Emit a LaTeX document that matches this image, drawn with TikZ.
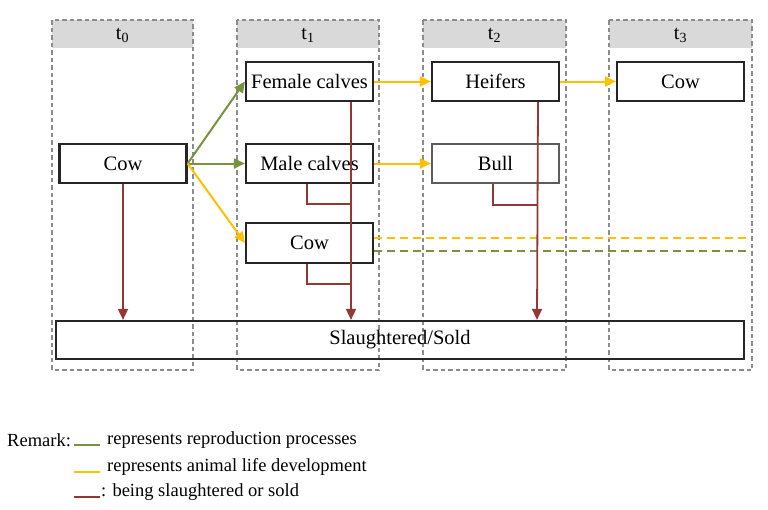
\documentclass[tikz,border=0pt]{standalone}
\usepackage{fontspec}
\setmainfont{Liberation Serif}
\usetikzlibrary{arrows.meta}
\definecolor{cgreen}{HTML}{77933C}
\definecolor{cyellow}{HTML}{FFC000}
\definecolor{cred}{HTML}{953735}
\definecolor{cband}{HTML}{D9D9D9}
\definecolor{cdash}{HTML}{8C8C8C}
\definecolor{cbox}{HTML}{262626}
\tikzset{
  colbox/.style={draw=cdash, line width=1.3pt, dash pattern=on 4.5pt off 3pt},
  band/.style={fill=cband, draw=none},
  hdr/.style={font=\fontsize{20}{22}\selectfont, inner sep=0pt},
  stbox/.style={draw=cbox, line width=2.2pt, minimum width=127pt, minimum height=39pt, inner sep=0pt, font=\fontsize{20.5}{22}\selectfont},
  garrow/.style={draw=cgreen, line width=2pt, -{Triangle[length=11pt,width=10pt]}},
  yarrow/.style={draw=cyellow, line width=2pt, -{Triangle[length=11pt,width=10pt]}},
  rarrow/.style={draw=cred, line width=1.8pt, -{Triangle[length=11pt,width=10pt]}},
  rline/.style={draw=cred, line width=1.8pt},
  ydash/.style={draw=cyellow, line width=2.2pt, dash pattern=on 8pt off 5pt},
  gdash/.style={draw=cgreen, line width=2.2pt, dash pattern=on 8pt off 5pt},
  legtxt/.style={font=\fontsize{18.5}{20}\selectfont, inner sep=0pt, anchor=west},
}
\begin{document}
\begin{tikzpicture}[x=1pt,y=-1pt]
\useasboundingbox (0,0) rectangle (768,509);
% columns
\foreach \xa/\xb/\n in {52/193/0, 237/379/1, 423/566/2, 609/752/3}{
  \fill[band] (\xa,20) rectangle (\xb,48);
  \draw[colbox] (\xa,20) rectangle (\xb,370);
  \node[hdr] (h\n) at ({(\xa+\xb)/2},35.5) {t\textsubscript{\n}};
}
% boxes
\node[stbox] (cow0) at (123,163.5) {Cow};
\node[stbox] (female) at (309.5,81.5) {Female calves};
\node[stbox] (male) at (309.5,163.5) {Male calves};
\node[stbox, minimum height=40pt] (cow1) at (309.5,243) {Cow};
\node[stbox] (heifers) at (495.5,81.5) {Heifers};
\node[stbox, draw=cbox!75] (bull) at (495.5,163.5) {Bull};
\node[stbox] (cow3) at (680.5,81.5) {Cow};
\node[stbox, minimum width=688pt, minimum height=38pt] (sold) at (400,340) {Slaughtered/Sold};
% green reproduction arrows
\draw[garrow] (cow0.east) -- (female.west);
\draw[garrow] (cow0.east) -- (male.west);
% yellow development arrows
\draw[yarrow] (cow0.east) -- (cow1.west);
\draw[yarrow] (female.east) -- (heifers.west);
\draw[yarrow] (male.east) -- (bull.west);
\draw[yarrow] (heifers.east) -- (cow3.west);
% dashed continuation lines
\coordinate (ydend) at (746,238);
\coordinate (gdend) at (746,251);
\draw[ydash] (cow1.east |- ydend) -- (ydend);
\draw[gdash] (cow1.east |- gdend) -- (gdend);
% red slaughter arrows
\draw[rarrow] (cow0.south) -- (cow0.south |- sold.north);
\coordinate (fdown) at ([xshift=41.5pt]female.south);
\draw[rarrow] (fdown) -- (fdown |- sold.north);
\coordinate (mb) at ([xshift=-2.5pt]male.south);
\coordinate (mbj) at (351,204);
\draw[rline] (mb) |- (mbj);
\coordinate (cb) at ([xshift=-2.5pt]cow1.south);
\coordinate (cbj) at (351,284);
\draw[rline] (cb) |- (cbj);
\coordinate (hdown) at ([xshift=42.5pt]heifers.south);
\draw[rarrow] (hdown) -- ([xshift=-1pt]hdown |- sold.north);
\coordinate (bb) at ([xshift=-2.5pt]bull.south);
\coordinate (bbj) at (538,205);
\draw[rline] (bb) |- (bbj);
% legend
\node[legtxt] (remark) at (7,440) {Remark:};
\coordinate (l1a) at (74,445); \coordinate (l1b) at (100,445);
\draw[draw=cgreen, line width=2pt] (l1a) -- (l1b);
\node[legtxt] (t1) at (107,440) {represents reproduction processes};
\coordinate (l2a) at (74,472); \coordinate (l2b) at (100,472);
\draw[draw=cyellow, line width=2pt] (l2a) -- (l2b);
\node[legtxt] (t2) at (107,467) {represents animal life development};
\coordinate (l3a) at (74,497); \coordinate (l3b) at (100,497);
\draw[draw=cred, line width=2pt] (l3a) -- (l3b);
\node[legtxt] (t3) at (101,492) {: being slaughtered or sold};
\end{tikzpicture}
\end{document}
